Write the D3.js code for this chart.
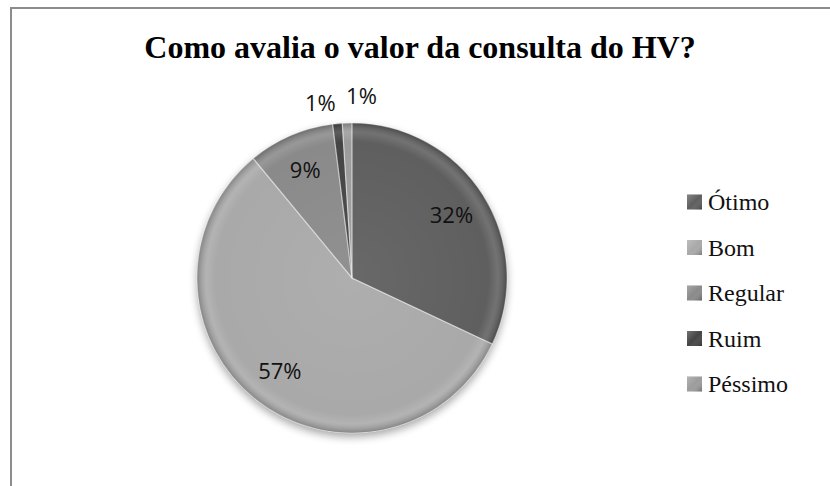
<!DOCTYPE html>
<html>
<head>
<meta charset="utf-8">
<script src="https://cdn.jsdelivr.net/npm/d3@7"></script>
<style>
  body { margin: 0; background: #fff; }
  svg { display: block; }
</style>
</head>
<body>
<script>
const categories = ["Ótimo", "Bom", "Regular", "Ruim", "Péssimo"];
const values = [32, 57, 9, 1, 1];
const colors = ["#5e5e5e", "#a9a9a9", "#8a8a8a", "#444444", "#9c9c9c"];

const w = 830;
const h = 486;
const cx = 352, cy = 278, r = 155;

const svg = d3.select("body").append("svg")
  .attr("width", w)
  .attr("height", h);

const defs = svg.append("defs");

// soft shadow under the pie
const shadow = defs.append("filter").attr("id", "shadow")
  .attr("x", "-20%").attr("y", "-20%").attr("width", "140%").attr("height", "140%");
shadow.append("feGaussianBlur").attr("in", "SourceAlpha").attr("stdDeviation", 4);
shadow.append("feOffset").attr("dy", 4).attr("result", "b");
shadow.append("feComponentTransfer").append("feFuncA").attr("type", "linear").attr("slope", 0.35);
const merge = shadow.append("feMerge");
merge.append("feMergeNode");
merge.append("feMergeNode").attr("in", "SourceGraphic");

// rim bevel
const rim = defs.append("radialGradient").attr("id", "rim")
  .attr("cx", "50%").attr("cy", "50%").attr("r", "50%");
rim.append("stop").attr("offset", "0%").attr("stop-color", "#fff").attr("stop-opacity", 0.06);
rim.append("stop").attr("offset", "88%").attr("stop-color", "#fff").attr("stop-opacity", 0);
rim.append("stop").attr("offset", "94%").attr("stop-color", "#fff").attr("stop-opacity", 0.12);
rim.append("stop").attr("offset", "100%").attr("stop-color", "#000").attr("stop-opacity", 0.22);

// legend bevel
const sq = defs.append("linearGradient").attr("id", "sq")
  .attr("x1", "0").attr("y1", "0").attr("x2", "1").attr("y2", "1");
sq.append("stop").attr("offset", "0%").attr("stop-color", "#fff").attr("stop-opacity", 0.25);
sq.append("stop").attr("offset", "50%").attr("stop-color", "#fff").attr("stop-opacity", 0);
sq.append("stop").attr("offset", "100%").attr("stop-color", "#000").attr("stop-opacity", 0.3);

// frame
svg.append("path")
  .attr("d", `M11,${h} L11,8 L${w},8`)
  .attr("fill", "none")
  .attr("stroke", "#8c8c8c")
  .attr("stroke-width", 2);

svg.append("text")
  .attr("x", 420)
  .attr("y", 58)
  .attr("text-anchor", "middle")
  .attr("font-family", "'Liberation Serif', 'Times New Roman', serif")
  .attr("font-weight", "bold")
  .attr("font-size", 32)
  .text("Como avalia o valor da consulta do HV?");

const data = categories.map((c, i) => ({ name: c, value: values[i], color: colors[i] }));

const pie = d3.pie().sort(null).value(d => d.value);
const arcs = pie(data);
const arc = d3.arc().innerRadius(0).outerRadius(r);

const g = svg.append("g").attr("transform", `translate(${cx},${cy})`);

const slices = g.append("g").attr("filter", "url(#shadow)");
slices.selectAll("path")
  .data(arcs)
  .enter()
  .append("path")
  .attr("d", arc)
  .attr("fill", d => d.data.color);

g.append("circle").attr("r", r).attr("fill", "url(#rim)");

// bevel lines between slices
g.selectAll(".edge")
  .data(arcs)
  .enter()
  .append("path")
  .attr("class", "edge")
  .attr("d", arc)
  .attr("fill", "none")
  .attr("stroke", "#fff")
  .attr("stroke-opacity", 0.35)
  .attr("stroke-width", 1.2);

// labels
const inner = d3.arc().innerRadius(r * 0.76).outerRadius(r * 0.76);
const outer = d3.arc().innerRadius(r + 22).outerRadius(r + 22);
const nudge = { "Ruim": [-15, 2], "Péssimo": [15, -5] };

g.selectAll(".lbl")
  .data(arcs)
  .enter()
  .append("text")
  .attr("class", "lbl")
  .attr("transform", d => {
    const p = (d.data.value < 5 ? outer : inner).centroid(d);
    const n = nudge[d.data.name] || [0, 0];
    return `translate(${p[0] + n[0]},${p[1] + n[1]})`;
  })
  .attr("text-anchor", "middle")
  .attr("dy", "0.35em")
  .attr("font-family", "'Open Sans', 'Liberation Sans', sans-serif")
  .attr("font-size", 22)
  .attr("fill", "#111")
  .text(d => d.data.value + "%");

// legend
const ly = d3.scalePoint().domain(categories).range([202, 384]);
const leg = svg.append("g").selectAll("g")
  .data(data)
  .enter()
  .append("g")
  .attr("transform", d => `translate(687,${ly(d.name)})`);

leg.append("rect")
  .attr("x", 0).attr("y", -7.5)
  .attr("width", 15).attr("height", 15)
  .attr("fill", d => d.color);
leg.append("rect")
  .attr("x", 0).attr("y", -7.5)
  .attr("width", 15).attr("height", 15)
  .attr("fill", "url(#sq)");

leg.append("text")
  .attr("x", 21)
  .attr("dy", "0.35em")
  .attr("font-family", "'Liberation Serif', 'Times New Roman', serif")
  .attr("font-size", 24)
  .attr("fill", "#111")
  .text(d => d.name);
</script>
</body>
</html>
